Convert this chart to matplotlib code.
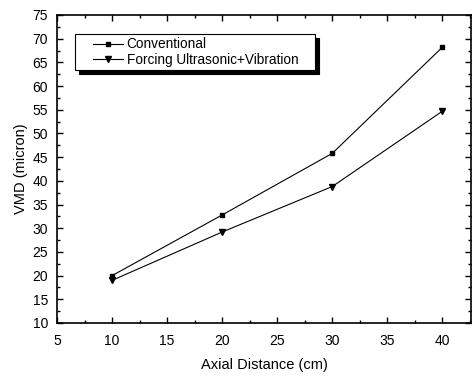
import numpy as np
import matplotlib.pyplot as plt
from matplotlib.ticker import MultipleLocator
from matplotlib.legend_handler import HandlerLine2D

# Data
distance = [10, 20, 30, 40]
conventional = [20.0, 32.8, 45.8, 68.2]
forcing = [19.0, 29.2, 38.8, 54.7]
labels = ['Conventional', 'Forcing Ultrasonic+Vibration']

plt.rcParams['font.family'] = ['Liberation Sans', 'DejaVu Sans']


# legend line that leaves some blank room on its left
class PaddedLine(HandlerLine2D):
    def create_artists(self, legend, orig_handle, xdescent, ydescent,
                       width, height, fontsize, trans):
        pad = 0.32 * width
        return super().create_artists(legend, orig_handle, xdescent - pad, ydescent,
                                      width - pad, height, fontsize, trans)


fig = plt.figure(figsize=(4.74, 3.76), dpi=100)
ax = fig.add_axes([57 / 474, 1 - 323 / 376, (471 - 57) / 474, (323 - 15) / 376])

l1, = ax.plot(distance, conventional, '-s', color='black', lw=0.8, ms=3.5, label=labels[0])
l2, = ax.plot(distance, forcing, '-v', color='black', lw=0.8, ms=4.5, label=labels[1])

ax.set_xlim(5, 42.6)
ax.set_ylim(10, 75)
ax.xaxis.set_major_locator(MultipleLocator(5))
ax.xaxis.set_minor_locator(MultipleLocator(2.5))
ax.yaxis.set_major_locator(MultipleLocator(5))
ax.yaxis.set_minor_locator(MultipleLocator(2.5))
ax.tick_params(which='both', direction='in', top=True, right=True, labelsize=10, width=1)
ax.tick_params(which='major', length=4)
ax.tick_params(which='minor', length=2)
ax.tick_params(axis='x', which='major', pad=8)
ax.tick_params(axis='y', which='major', pad=6.5)
for s in ax.spines.values():
    s.set_linewidth(1.2)

ax.set_xlabel('Axial Distance (cm)', fontsize=10.5, labelpad=7)
ax.set_ylabel('VMD (micron)', fontsize=10.5, labelpad=3)

# legend box spans axes fraction 0.0435 .. 0.623 horizontally
leg = ax.legend(loc='upper left', bbox_to_anchor=(0.0435, 0.938, 0.58, 0.0),
                mode='expand', fontsize=9.8, frameon=True, fancybox=False,
                shadow={'color': 'black', 'alpha': 1, 'ox': 3, 'oy': -3},
                borderpad=0.25, handlelength=3.24, handletextpad=0.3,
                labelspacing=0.1, borderaxespad=0,
                handler_map={l1: PaddedLine(), l2: PaddedLine()})
leg.get_frame().set_edgecolor('black')
leg.get_frame().set_linewidth(0.8)

fig.savefig('out.png', dpi=100)
